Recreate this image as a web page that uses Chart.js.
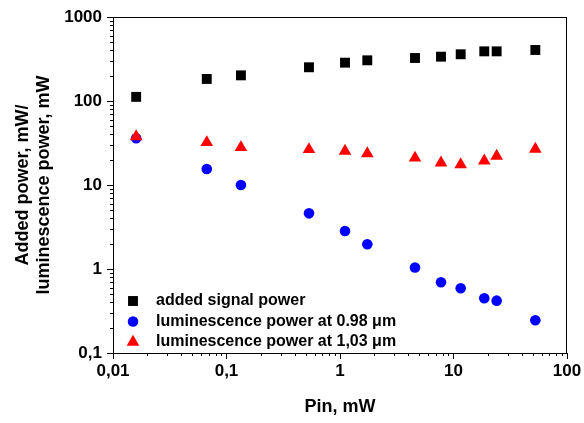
<!DOCTYPE html>
<html lang="en">
<head>
  <meta charset="UTF-8">
  <title>Added power / luminescence power vs Pin</title>
  <style>
    body {
      margin: 0;
      background: #fff;
    }
    .chart-box {
      width: 584px;
      height: 423px;
    }
  </style>
</head>
<body>

<div class="chart-box">
  <canvas id="powerChart"></canvas>
</div>

<script src="https://cdn.jsdelivr.net/npm/chart.js"></script>
<script>
  // data
  const pin = [0.016, 0.067, 0.134, 0.533, 1.107, 1.74, 4.58, 7.76, 11.57, 18.67, 24.0, 52.6];
  const addedSignal = [112, 183, 202, 252, 286, 305, 325, 337, 360, 390, 390, 405];
  const lum098 = [36, 15.5, 10, 4.6, 2.83, 1.97, 1.04, 0.695, 0.589, 0.448, 0.42, 0.245];
  const lum103 = [37.8, 32.1, 28.0, 26.5, 25.3, 23.7, 21.0, 18.4, 17.5, 19.4, 22.1, 26.8];

  const xTicks = [0.01, 0.1, 1, 10, 100];
  const yTicks = [0.1, 1, 10, 100, 1000];

  const labelFont = 'Liberation Sans, Arial, sans-serif';

  function toPoints(ys) {
    return pin.map((x, i) => ({ x: x, y: ys[i] }));
  }

  function commaLabel(v) {
    return String(v).replace('.', ',');
  }

  // frame, minor ticks and the in-plot legend
  const extras = {
    id: 'extras',
    afterDraw(chart) {
      const ctx = chart.ctx;
      const a = chart.chartArea;
      const xs = chart.scales.x;
      const ys = chart.scales.y;
      ctx.save();
      ctx.strokeStyle = '#000';
      ctx.lineWidth = 1;
      ctx.strokeRect(a.left + 0.5, a.top + 0.5, a.right - a.left - 1, a.bottom - a.top);

      // minor ticks
      ctx.beginPath();
      for (let k = 0; k < xTicks.length - 1; k++) {
        for (let m = 2; m <= 9; m++) {
          const px = Math.round(xs.getPixelForValue(m * xTicks[k])) + 0.5;
          ctx.moveTo(px, a.bottom);
          ctx.lineTo(px, a.bottom + 3);
        }
      }
      for (let k = 0; k < yTicks.length - 1; k++) {
        for (let m = 2; m <= 9; m++) {
          const py = Math.round(ys.getPixelForValue(m * yTicks[k])) + 0.5;
          ctx.moveTo(a.left, py);
          ctx.lineTo(a.left - 3, py);
        }
      }
      ctx.stroke();

      // legend
      const rowY = a.bottom - 52;
      chart.data.datasets.forEach((ds, i) => {
        const y = rowY + i * 20.5;
        ctx.fillStyle = ds.backgroundColor;
        ctx.strokeStyle = ds.backgroundColor;
        Chart.helpers.drawPoint(ctx, {
          pointStyle: ds.pointStyle,
          rotation: 0,
          radius: ds.pointRadius,
          borderWidth: 0
        }, a.left + 20, y);
        ctx.fillStyle = '#000';
        ctx.font = 'bold 16px ' + labelFont;
        ctx.textAlign = 'left';
        ctx.textBaseline = 'middle';
        ctx.fillText(ds.label, a.left + 43, y);
      });
      ctx.restore();
    }
  };

  const ctx = document.getElementById('powerChart').getContext('2d');
  const chart = new Chart(ctx, {
    type: 'scatter',
    data: {
      datasets: [
        {
          label: 'added signal power',
          data: toPoints(addedSignal),
          pointStyle: 'rect',
          pointRadius: 7,
          backgroundColor: '#000000',
          borderColor: '#000000',
          pointBorderWidth: 0,
          order: 2
        },
        {
          label: 'luminescence power at 0.98 \u03bcm',
          data: toPoints(lum098),
          pointStyle: 'circle',
          pointRadius: 5.3,
          backgroundColor: '#0000ff',
          borderColor: '#0000ff',
          pointBorderWidth: 0,
          order: 1
        },
        {
          label: 'luminescence power at 1,03 \u03bcm',
          data: toPoints(lum103),
          pointStyle: 'triangle',
          pointRadius: 7.3,
          backgroundColor: '#ff0000',
          borderColor: '#ff0000',
          pointBorderWidth: 0,
          order: 0
        }
      ]
    },
    options: {
      responsive: true,
      maintainAspectRatio: false,
      animation: false,
      events: [],
      layout: {
        padding: { top: 17, right: 17, left: 0, bottom: 0 }
      },
      plugins: {
        legend: { display: false },
        tooltip: { enabled: false }
      },
      scales: {
        x: {
          type: 'logarithmic',
          min: 0.01,
          max: 100,
          afterBuildTicks: (scale) => {
            scale.ticks = xTicks.map(v => ({ value: v }));
          },
          afterFit: (scale) => {
            scale.height = 70;
          },
          ticks: {
            autoSkip: false,
            maxRotation: 0,
            padding: 2,
            color: '#000',
            font: { family: labelFont, size: 17, weight: 'bold' },
            callback: (v) => commaLabel(v)
          },
          grid: {
            drawOnChartArea: false,
            drawTicks: true,
            tickLength: 6,
            color: '#000'
          },
          border: { display: true, color: '#000' },
          title: {
            display: true,
            text: 'Pin, mW',
            color: '#000',
            font: { family: labelFont, size: 18, weight: 'bold' },
            padding: { top: 0, bottom: 5.5 }
          }
        },
        y: {
          type: 'logarithmic',
          min: 0.1,
          max: 1000,
          afterBuildTicks: (scale) => {
            scale.ticks = yTicks.map(v => ({ value: v }));
          },
          afterFit: (scale) => {
            scale.width = 113;
          },
          ticks: {
            autoSkip: false,
            padding: 5,
            color: '#000',
            font: { family: labelFont, size: 17, weight: 'bold' },
            callback: (v) => commaLabel(v)
          },
          grid: {
            drawOnChartArea: false,
            drawTicks: true,
            tickLength: 6,
            color: '#000'
          },
          border: { display: true, color: '#000' },
          title: {
            display: true,
            text: ['Added power, mW/', 'luminescence power, mW'],
            color: '#000',
            font: { family: labelFont, size: 18, weight: 'bold', lineHeight: 1.17 },
            padding: { top: 12.5, bottom: 0 }
          }
        }
      }
    },
    plugins: [extras]
  });
</script>

</body>
</html>
